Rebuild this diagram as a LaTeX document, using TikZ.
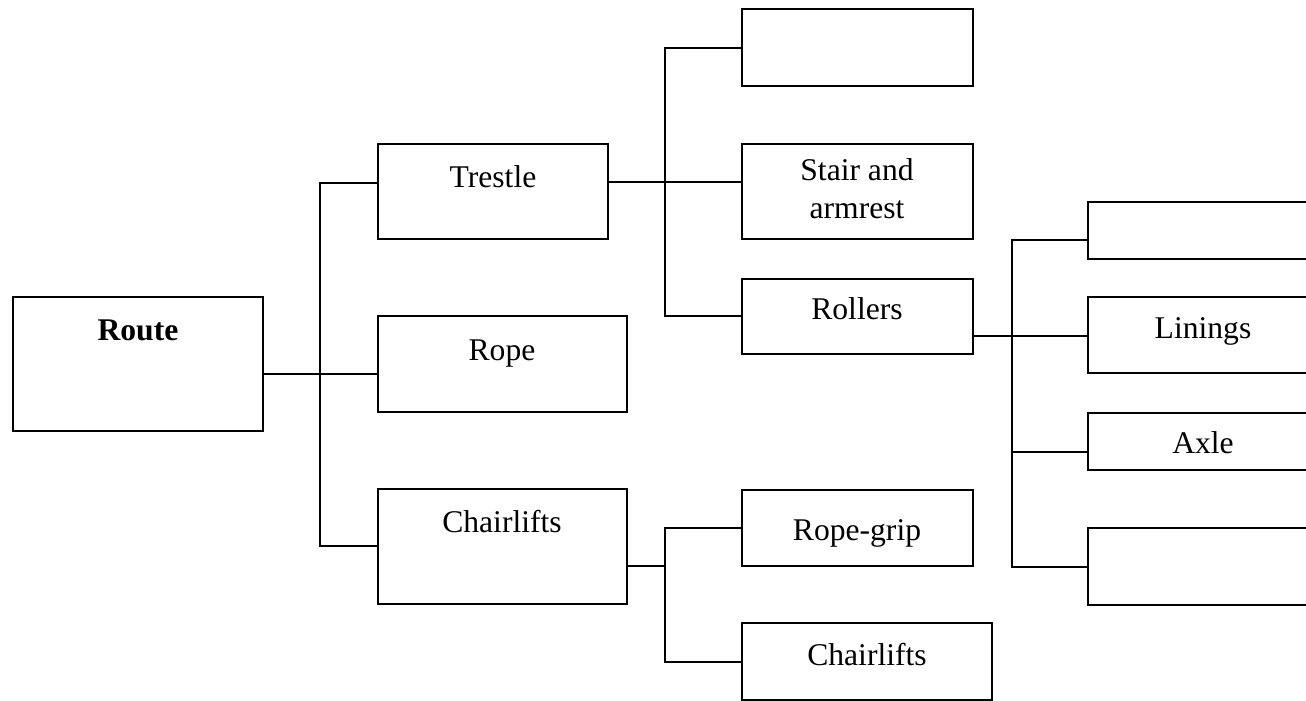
\documentclass[tikz,border=0pt]{standalone}
\usepackage{fontspec}
\setmainfont{Liberation Serif}
\usetikzlibrary{fit}
\begin{document}
\begin{tikzpicture}[x=0.5pt,y=-0.5pt,
  box/.style={draw, line width=0.9pt, inner sep=0pt, rectangle},
  conn/.style={draw, line width=0.9pt},
  lbl/.style={anchor=base, inner sep=0pt, align=center, font=\fontsize{15.8}{19}\selectfont}]
\useasboundingbox (0,0) rectangle (1306,701);
\clip (0,0) rectangle (1306,701);
% boxes
\node[box, fit={(13,297) (263,431)}] (route) {};
\node[box, fit={(378,144) (608,239)}] (trestle) {};
\node[box, fit={(378,316) (627,412)}] (rope) {};
\node[box, fit={(378,489) (627,604)}] (chairA) {};
\node[box, fit={(742,9) (973,86)}] (top1) {};
\node[box, fit={(742,144) (973,239)}] (stair) {};
\node[box, fit={(742,279) (973,354)}] (rollers) {};
\node[box, fit={(742,490) (973,566)}] (grip) {};
\node[box, fit={(742,623) (992,700)}] (chairB) {};
\node[box, fit={(1088,202) (1318,259)}] (r1) {};
\node[box, fit={(1088,297) (1318,373)}] (linings) {};
\node[box, fit={(1088,413) (1318,470)}] (axle) {};
\node[box, fit={(1088,528) (1318,605)}] (r4) {};
% labels
\node[lbl, font=\fontsize{15.8}{19}\selectfont\bfseries] (tRoute) at (138,340) {Route};
\node[lbl] (tTrestle) at (493,187) {Trestle};
\node[lbl] (tRope) at (502,360) {Rope};
\node[lbl] (tChairA) at (502,532) {Chairlifts};
\node[lbl, anchor=north] (tStair) at (857,158) {Stair and\\armrest};
\node[lbl] (tRollers) at (857,319) {Rollers};
\node[lbl] (tGrip) at (857,540) {Rope-grip};
\node[lbl] (tChairB) at (867,665) {Chairlifts};
\node[lbl] (tLinings) at (1203,338) {Linings};
\node[lbl] (tAxle) at (1203,453) {Axle};
% junction coordinates
\coordinate (a1) at (320,183);
\coordinate (a2) at (320,546);
\coordinate (r0) at (320,374);
\coordinate (b0) at (665,182);
\coordinate (b1) at (665,48);
\coordinate (b2) at (665,316);
\coordinate (c0) at (665,566);
\coordinate (c1) at (665,528);
\coordinate (c2) at (665,662);
\coordinate (d0) at (1012,336);
\coordinate (d1) at (1012,240);
\coordinate (d3) at (1012,452);
\coordinate (d4) at (1012,567);
% connectors
\draw[conn] (route.east |- r0) -- (rope.west |- r0);
\draw[conn] (trestle.west |- a1) -- (a1) -- (a2) -- (chairA.west |- a2);
\draw[conn] (trestle.east |- b0) -- (stair.west |- b0);
\draw[conn] (top1.west |- b1) -- (b1) -- (b2) -- (rollers.west |- b2);
\draw[conn] (chairA.east |- c0) -- (c0);
\draw[conn] (grip.west |- c1) -- (c1) -- (c2) -- (chairB.west |- c2);
\draw[conn] (rollers.east |- d0) -- (linings.west |- d0);
\draw[conn] (r1.west |- d1) -- (d1) -- (d4) -- (r4.west |- d4);
\draw[conn] (d3) -- (axle.west |- d3);
\end{tikzpicture}
\end{document}
